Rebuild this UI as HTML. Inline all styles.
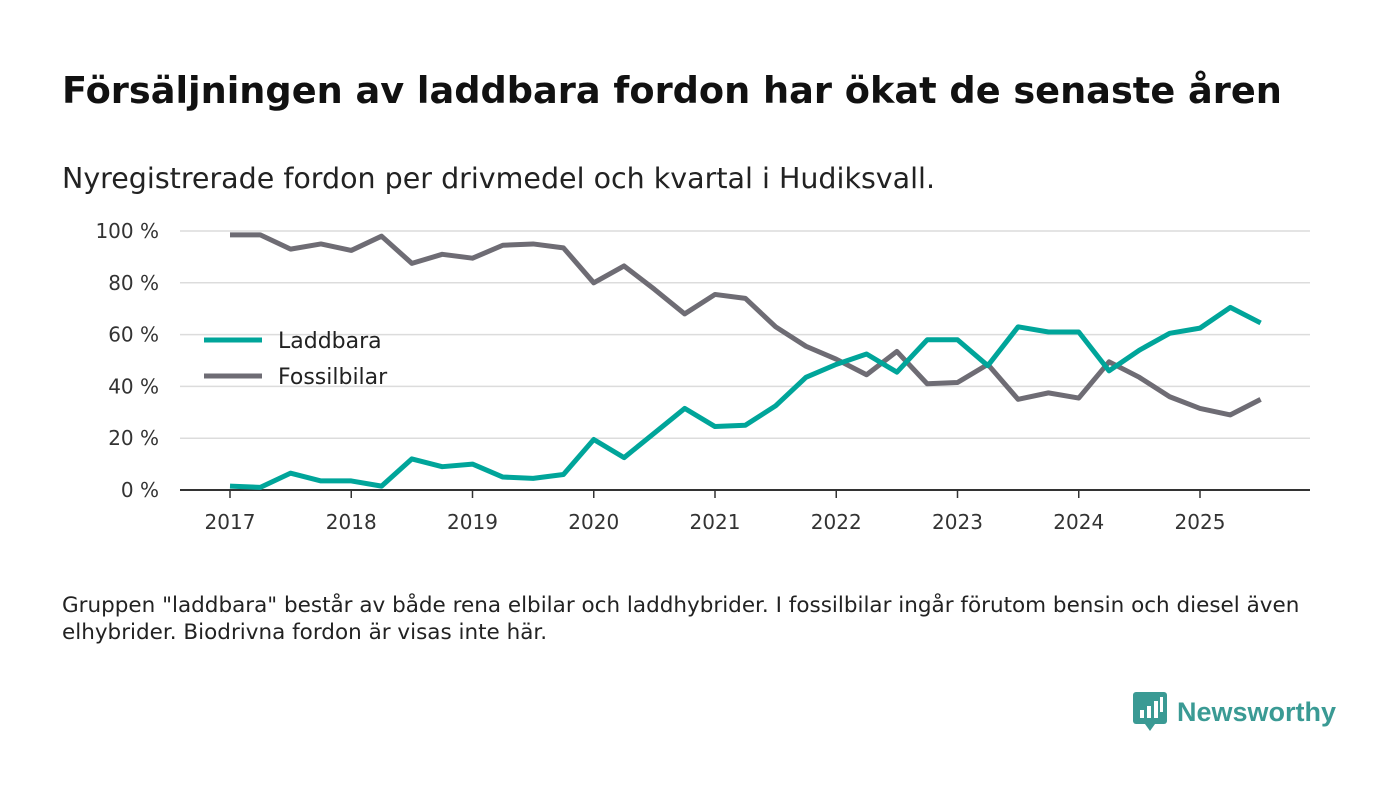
<!DOCTYPE html>
<html><head><meta charset="utf-8">
<style>
body{margin:0;background:#fff;font-family:"DejaVu Sans","Liberation Sans",sans-serif;}
#wrap{position:relative;width:1400px;height:793px;overflow:hidden;}
h1{position:absolute;left:62px;top:69px;margin:0;font-size:36.7px;font-weight:bold;color:#111;white-space:nowrap}
.sub{position:absolute;left:62px;top:162px;font-size:28.5px;color:#222;white-space:nowrap}
.note{position:absolute;left:62px;top:592px;font-size:21.5px;line-height:27px;color:#222;width:1330px;white-space:nowrap}
.logo{position:absolute;left:1133px;top:692px;display:flex;align-items:center;gap:10px;color:#3a9a94;font-size:27px;font-weight:bold;font-family:"Liberation Sans",sans-serif}
</style></head><body>
<div id="wrap">
<h1>Försäljningen av laddbara fordon har ökat de senaste åren</h1>
<div class="sub">Nyregistrerade fordon per drivmedel och kvartal i Hudiksvall.</div>
<svg id="chart" width="1400" height="793" style="position:absolute;left:0;top:0"></svg>
<div class="note">Gruppen "laddbara" består av både rena elbilar och laddhybrider. I fossilbilar ingår förutom bensin och diesel även<br>elhybrider. Biodrivna fordon är visas inte här.</div>
<div class="logo">
<svg width="34" height="40" viewBox="0 0 34 40"><rect x="0" y="0" width="34" height="32" rx="3" fill="#3a9a94"/><polygon points="12,32 22,32 17,39" fill="#3a9a94"/><rect x="7" y="18" width="4" height="8" fill="#fff"/><rect x="14" y="14" width="4" height="12" fill="#fff"/><rect x="21" y="9" width="4" height="17" fill="#fff"/><rect x="27" y="5" width="3" height="15" fill="#fff"/></svg>
<span>Newsworthy</span></div>
</div>
<script>
const years=[2017,2018,2019,2020,2021,2022,2023,2024,2025];
const yTicks=[0,20,40,60,80,100];
const laddbara=[1.5,1,6.5,3.5,3.5,1.5,12,9,10,5,4.5,6,19.5,12.5,22,31.5,24.5,25,32.5,43.5,48.5,52.5,45.5,58,58,48,63,61,61,46,54,60.5,62.5,70.5,64.5];
const fossil=[98.5,98.5,93,95,92.5,98,87.5,91,89.5,94.5,95,93.5,80,86.5,77.5,68,75.5,74,63,55.5,50.5,44.5,53.5,41,41.5,48.5,35,37.5,35.5,49.5,43.5,36,31.5,29,35];
const NS='http://www.w3.org/2000/svg',svg=document.getElementById('chart');
const FF='DejaVu Sans, Liberation Sans, sans-serif';
const x=t=>230+(t)*(970/32), y=v=>490-v*2.59;
function mk(tag,a){const e=document.createElementNS(NS,tag);for(const k in a)e.setAttribute(k,a[k]);svg.appendChild(e);return e;}
yTicks.forEach(v=>{
 const l=mk('line',{x1:180,x2:1310,y1:y(v),y2:y(v),stroke:v?'#dcdcdc':'#333','stroke-width':v?1.5:2});
 
 
 const t=mk('text',{x:159,y:y(v)+7,'text-anchor':'end','font-size':20,fill:'#333','font-family':FF});
 t.textContent=v+' %';
 
 
});
years.forEach((yr,i)=>{
 const px=x(i*4);
 const tk=mk('line',{x1:px,x2:px,y1:490,y2:498,stroke:'#333','stroke-width':1.5});
 
 
 const t=mk('text',{x:px,y:529,'text-anchor':'middle','font-size':20,fill:'#333','font-family':FF});
 t.textContent=yr;
 
 
});
function line(d,c,n){
 const p=mk('polyline',{points:d.map((v,i)=>x(i)+','+y(v)).join(' '),fill:'none',stroke:c,'stroke-width':5,'stroke-linejoin':'round'});
 
 
}
line(fossil,'#6e6c74','fossilbilar-line');
line(laddbara,'#00a59a','laddbara-line');
[['Laddbara','#00a59a',340],['Fossilbilar','#6e6c74',376]].forEach(([n,c,yy])=>{
 const l=mk('line',{x1:204,x2:262,y1:yy,y2:yy,stroke:c,'stroke-width':5});
 
 
 const t=mk('text',{x:278,y:yy+8,'font-size':22,fill:'#222','font-family':FF});
 t.textContent=n;
 
 
});
</script>
</body></html>
